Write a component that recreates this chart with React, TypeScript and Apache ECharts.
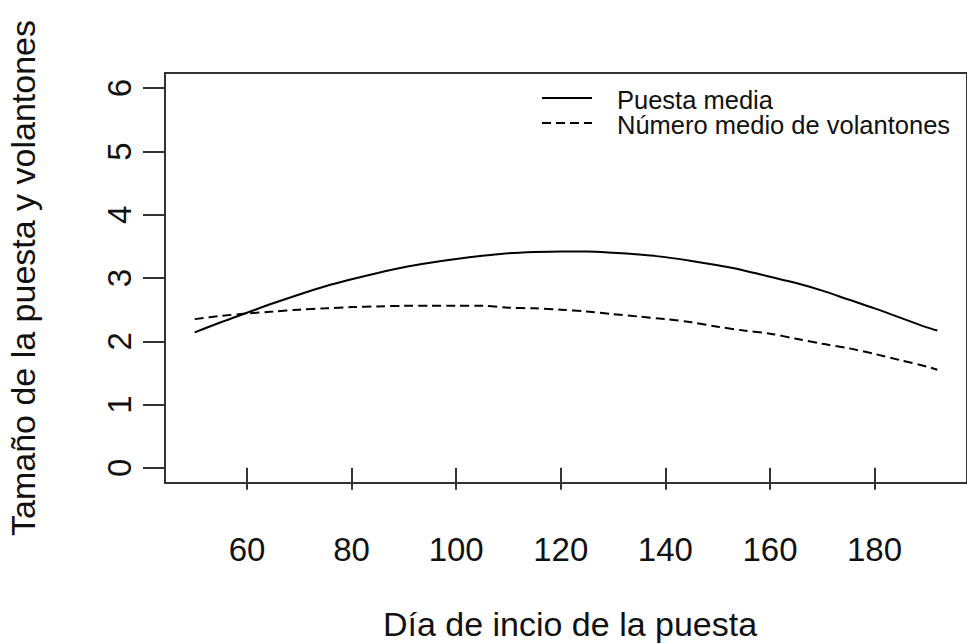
import React, { useEffect, useRef } from "react";
import * as echarts from "echarts";

// Día de inicio de la puesta (x) and the two fitted curves
const days = [50, 55, 60, 65, 70, 75, 80, 85, 90, 95, 100, 105, 110, 115, 120, 125, 130, 135, 140, 145, 150, 155, 160, 165, 170, 175, 180, 185, 190, 192];
const puestaMedia = [2.14, 2.3, 2.45, 2.6, 2.74, 2.87, 2.98, 3.08, 3.17, 3.24, 3.3, 3.35, 3.39, 3.41, 3.42, 3.42, 3.4, 3.37, 3.33, 3.27, 3.2, 3.12, 3.02, 2.92, 2.8, 2.66, 2.52, 2.37, 2.22, 2.17];
const volantones = [2.35, 2.4, 2.44, 2.47, 2.5, 2.52, 2.54, 2.55, 2.56, 2.56, 2.56, 2.56, 2.53, 2.52, 2.5, 2.47, 2.43, 2.39, 2.35, 2.3, 2.23, 2.17, 2.12, 2.04, 1.96, 1.89, 1.8, 1.7, 1.6, 1.55];

const xTicks = [60, 80, 100, 120, 140, 160, 180];
const yTicks = [0, 1, 2, 3, 4, 5, 6];

const legendNames = ["Puesta media", "Número medio de volantones"];
const xTitle = "Día de incio de la puesta";
const yTitle = "Tamaño de la puesta y volantones";

const FONT = "'Liberation Sans', Arial, sans-serif";
const INK = "#111";
const FRAME = "#333";

export default function App() {
  const ref = useRef<HTMLDivElement>(null);

  useEffect(() => {
    if (!ref.current) return;
    const chart = echarts.init(ref.current, null, { renderer: "svg" });

    // R-style axis extents (4% padding around the data range)
    const xMin = 44.32;
    const xMax = 197.68;
    const yMin = -0.24;
    const yMax = 6.24;

    chart.setOption({
      animation: false,
      backgroundColor: "#fff",
      grid: {
        left: 165,
        top: 73,
        bottom: 160,
        right: -9,
        show: true,
        borderColor: FRAME,
        borderWidth: 2,
        backgroundColor: "transparent",
      },
      xAxis: {
        type: "value",
        min: xMin,
        max: xMax,
        axisLine: { show: false },
        splitLine: { show: false },
        axisTick: {
          show: true,
          inside: false,
          length: 22,
          customValues: xTicks,
          lineStyle: { color: FRAME, width: 2 },
        },
        axisLabel: {
          customValues: xTicks,
          margin: 50,
          color: INK,
          fontSize: 33,
          fontFamily: FONT,
        },
      },
      yAxis: {
        type: "value",
        min: yMin,
        max: yMax,
        axisLine: { show: false },
        splitLine: { show: false },
        axisTick: {
          show: true,
          inside: false,
          length: 22,
          customValues: yTicks,
          lineStyle: { color: FRAME, width: 2 },
        },
        axisLabel: {
          customValues: yTicks,
          rotate: 90,
          margin: 29,
          color: INK,
          fontSize: 33,
          fontFamily: FONT,
        },
      },
      series: [
        {
          name: legendNames[0],
          type: "line",
          data: days.map((d, i) => [d, puestaMedia[i]]),
          showSymbol: false,
          smooth: 0.3,
          lineStyle: { color: "#000", width: 2 },
        },
        {
          name: legendNames[1],
          type: "line",
          data: days.map((d, i) => [d, volantones[i]]),
          showSymbol: false,
          smooth: 0.3,
          lineStyle: { color: "#000", width: 2, type: [9, 5] },
        },
      ],
      graphic: [
        // legend (no box)
        {
          type: "line",
          shape: { x1: 542, y1: 98, x2: 592, y2: 98 },
          style: { stroke: "#000", lineWidth: 2 },
        },
        {
          type: "line",
          shape: { x1: 542, y1: 123, x2: 592, y2: 123 },
          style: { stroke: "#000", lineWidth: 2, lineDash: [9, 5] },
        },
        {
          type: "text",
          x: 617,
          y: 99.5,
          style: {
            text: legendNames[0],
            font: `25.5px ${FONT}`,
            fill: INK,
            align: "left",
            verticalAlign: "middle",
          },
        },
        {
          type: "text",
          x: 617,
          y: 125,
          style: {
            text: legendNames[1],
            font: `25.5px ${FONT}`,
            fill: INK,
            align: "left",
            verticalAlign: "middle",
          },
        },
        // axis titles
        {
          type: "text",
          x: 570,
          y: 624,
          style: {
            text: xTitle,
            font: `34px ${FONT}`,
            fill: INK,
            align: "center",
            verticalAlign: "middle",
          },
        },
        {
          type: "text",
          x: 23,
          y: 278,
          rotation: Math.PI / 2,
          style: {
            text: yTitle,
            font: `34px ${FONT}`,
            fill: INK,
            align: "center",
            verticalAlign: "middle",
          },
        },
      ],
    });

    return () => chart.dispose();
  }, []);

  return (
    <div
      ref={ref}
      style={{ position: "fixed", left: 0, top: 0, width: 967, height: 643, background: "#fff" }}
    />
  );
}
